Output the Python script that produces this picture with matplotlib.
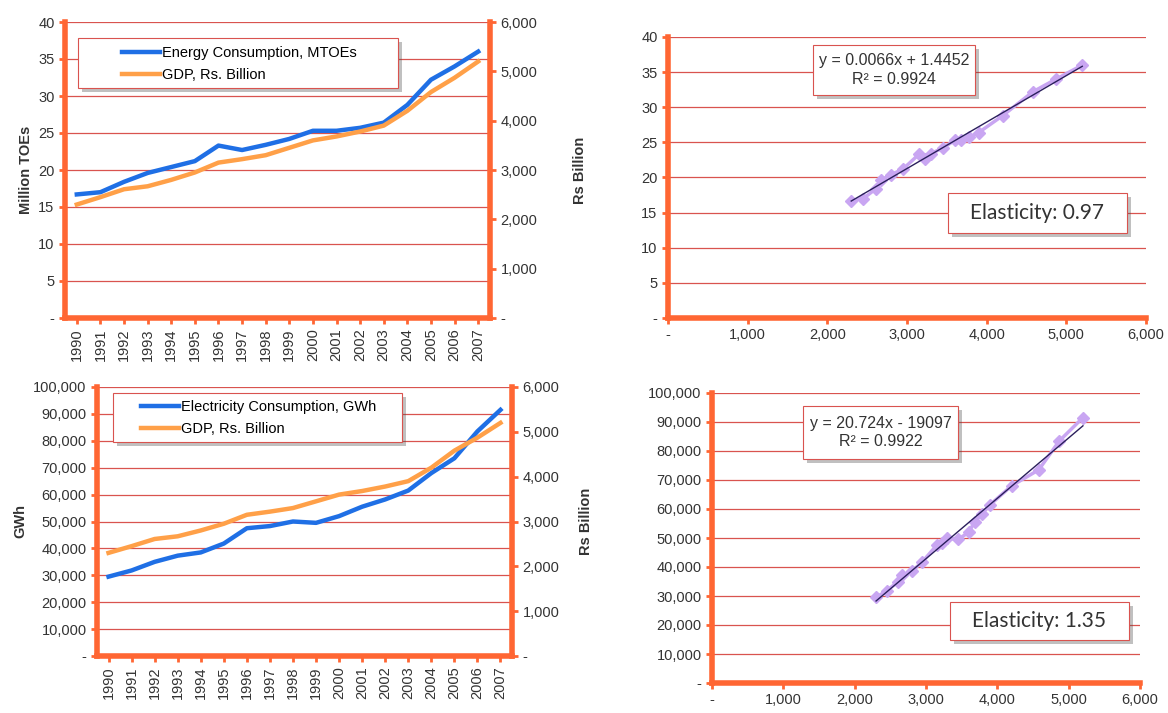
import matplotlib.pyplot as plt
import matplotlib.patheffects as pe
from matplotlib.patches import Rectangle
import numpy as np
from matplotlib.ticker import FuncFormatter

plt.rcParams['font.family'] = ['Liberation Sans', 'DejaVu Sans']

years = list(range(1990, 2008))
energy_mtoe = [16.7, 17.0, 18.4, 19.6, 20.4, 21.2, 23.3, 22.7, 23.4, 24.2,
               25.3, 25.3, 25.7, 26.4, 28.8, 32.2, 34.0, 36.0]
gdp_bn = [2300, 2450, 2610, 2670, 2800, 2950, 3150, 3220, 3300, 3450,
          3600, 3680, 3780, 3900, 4200, 4580, 4870, 5200]
elec_gwh = [29500, 31800, 35000, 37300, 38500, 41800, 47500, 48300, 50000, 49500,
            52000, 55500, 58200, 61500, 68000, 73500, 83500, 91500]

eq_energy = "y = 0.0066x + 1.4452\nR\u00b2 = 0.9924"
eq_elec = "y = 20.724x - 19097\nR\u00b2 = 0.9922"
elast_energy = "Elasticity: 0.97"
elast_elec = "Elasticity: 1.35"

ORANGE = "#FF6633"
GRID = "#D9534F"
BLUE = "#1F6FE5"
GDPC = "#FFA048"
TXT = "#333333"
W, H = 1168, 713


def px_axes(fig, l, r, t, b):
    return fig.add_axes([l / W, 1 - b / H, (r - l) / W, (b - t) / H])


def fmt_thousands(v, pos):
    if abs(v) < 1e-9:
        return "-"
    if v >= 1000:
        return f"{v:,.0f}"
    return f"{v:g}"


def style(ax):
    ax.spines["top"].set_visible(False)
    ax.spines["right"].set_visible(False)
    for s in ["left", "bottom"]:
        ax.spines[s].set_color(ORANGE)
        ax.spines[s].set_linewidth(4)
    ax.tick_params(colors=ORANGE, labelcolor=TXT, labelsize=10.5, length=4, width=2)
    ax.yaxis.grid(True, color=GRID, lw=0.9)
    ax.set_axisbelow(True)
    ax.yaxis.set_major_formatter(FuncFormatter(fmt_thousands))


def style_twin(axb, pad):
    for s in ["top", "left", "bottom"]:
        axb.spines[s].set_visible(False)
    axb.spines["right"].set_color(ORANGE)
    axb.spines["right"].set_linewidth(4)
    axb.tick_params(colors=ORANGE, labelcolor=TXT, labelsize=10.5, length=4, width=2)
    axb.yaxis.set_major_formatter(FuncFormatter(fmt_thousands))
    axb.set_ylabel("Rs Billion", fontweight="bold", fontsize=10.5, color=TXT, labelpad=pad)


def px_box(fig, l, r, t, b):
    # white box with thin red border and soft shadow, in figure pixels
    rect = Rectangle((l / W, 1 - b / H), (r - l) / W, (b - t) / H, transform=fig.transFigure,
                     fc="white", ec=GRID, lw=0.8, zorder=5)
    rect.set_path_effects([pe.SimplePatchShadow(offset=(3, -3), alpha=0.35), pe.Normal()])
    fig.add_artist(rect)


def legend_box(fig, handles, l, r, t, b, hx, row1):
    px_box(fig, l, r, t, b)
    leg = fig.legend(handles, [h.get_label() for h in handles], loc="upper left",
                     bbox_to_anchor=(hx / W, 1 - (row1 - 5) / H), fontsize=10.5,
                     frameon=False, handlelength=2.6, handletextpad=0.15,
                     borderpad=0, labelspacing=0.55, borderaxespad=0)
    leg.set_zorder(6)


def boxed_text(fig, text, l, r, t, b, **kw):
    px_box(fig, l, r, t, b)
    fig.text((l + r) / 2 / W, 1 - (t + b) / 2 / H, text, ha="center", va="center",
             color=TXT, zorder=6, **kw)


fig = plt.figure(figsize=(W / 100, H / 100), dpi=100)
x = np.arange(len(years))

# top-left: energy and gdp over time
ax1 = px_axes(fig, 65, 490, 22, 318)
l1, = ax1.plot(x, energy_mtoe, color=BLUE, lw=3.2, label="Energy Consumption, MTOEs")
ax1.set_ylim(0, 40)
ax1.set_yticks(range(0, 41, 5))
ax1.set_xlim(-0.5, len(years) - 0.5)
ax1.set_xticks(x)
ax1.set_xticklabels(years, rotation=90)
style(ax1)
ax1.set_ylabel("Million TOEs", fontweight="bold", fontsize=10.5, color=TXT)
ax1b = ax1.twinx()
l2, = ax1b.plot(x, gdp_bn, color=GDPC, lw=3.2, label="GDP, Rs. Billion")
ax1b.set_ylim(0, 6000)
ax1b.set_yticks(range(0, 6001, 1000))
style_twin(ax1b, 26)
legend_box(fig, [l1, l2], 78, 398, 38, 88, 122, 51)

# bottom-left: electricity and gdp over time
ax3 = px_axes(fig, 97, 512, 387, 656)
l3, = ax3.plot(x, elec_gwh, color=BLUE, lw=3.2, label="Electricity Consumption, GWh")
ax3.set_ylim(0, 100000)
ax3.set_yticks(range(0, 100001, 10000))
ax3.set_xlim(-0.5, len(years) - 0.5)
ax3.set_xticks(x)
ax3.set_xticklabels(years, rotation=90)
style(ax3)
ax3.set_ylabel("GWh", fontweight="bold", fontsize=10.5, color=TXT)
ax3b = ax3.twinx()
l4, = ax3b.plot(x, gdp_bn, color=GDPC, lw=3.2, label="GDP, Rs. Billion")
ax3b.set_ylim(0, 6000)
ax3b.set_yticks(range(0, 6001, 1000))
style_twin(ax3b, 14)
legend_box(fig, [l3, l4], 113, 402, 393, 442, 141, 405)


def scatter_panel(ax, yvals, ymax, ystep):
    ax.plot(gdp_bn, yvals, color="#C9A6F2", lw=2.5, marker="D", ms=6.5, mfc="#C9A6F2", mec="#C9A6F2")
    k, c = np.polyfit(gdp_bn, yvals, 1)
    xs = np.array([min(gdp_bn), max(gdp_bn)])
    ax.plot(xs, k * xs + c, color="#2A1F5C", lw=1)
    ax.set_xlim(0, 6000)
    ax.set_xticks(range(0, 6001, 1000))
    ax.xaxis.set_major_formatter(FuncFormatter(fmt_thousands))
    ax.set_ylim(0, ymax)
    ax.set_yticks(np.arange(0, ymax + 1, ystep))
    style(ax)


ax2 = px_axes(fig, 668, 1146, 37, 318)
scatter_panel(ax2, energy_mtoe, 40, 5)
boxed_text(fig, eq_energy, 813, 975, 45, 95, fontsize=11.5, linespacing=1.3)
boxed_text(fig, elast_energy, 948, 1127, 193, 233, fontsize=15, family=["Lato", "DejaVu Sans"])

ax4 = px_axes(fig, 712, 1140, 393, 683)
scatter_panel(ax4, elec_gwh, 100000, 10000)
boxed_text(fig, eq_elec, 803, 958, 406, 459, fontsize=11.5, linespacing=1.3)
boxed_text(fig, elast_elec, 950, 1129, 602, 640, fontsize=15, family=["Lato", "DejaVu Sans"])

fig.savefig("out.png", dpi=100)
